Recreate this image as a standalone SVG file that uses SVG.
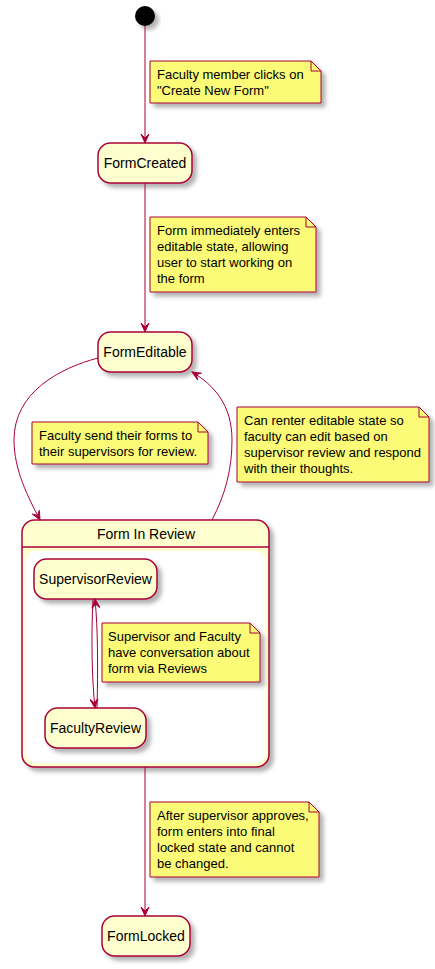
<svg xmlns="http://www.w3.org/2000/svg" width="435" height="969" viewBox="0 0 435 969">
<style>
.st{fill:#FEFECE;stroke:#A80036;stroke-width:1.5}
.nt{fill:#FBFB77;stroke:#A80036;stroke-width:1}
.fold{fill:none;stroke:#A80036;stroke-width:1}
.ln{fill:none;stroke:#A80036;stroke-width:1}
.sn{font-family:"Liberation Sans",Arial,sans-serif;font-size:14px;fill:#000;text-anchor:middle}
.tx{font-family:"Liberation Sans",Arial,sans-serif;font-size:13px;fill:#000}
</style>
<defs>
<filter id="sh" x="-20%" y="-20%" width="150%" height="150%">
<feDropShadow dx="4" dy="4" stdDeviation="2" flood-color="#000" flood-opacity="0.3"/>
</filter>
<marker id="ah" viewBox="-10 -5 11 10" refX="0" refY="0" markerWidth="11" markerHeight="10" markerUnits="userSpaceOnUse" orient="auto">
<path d="M0,0 L-9,-4 L-5,0 L-9,4 Z" fill="#A80036" stroke="#A80036" stroke-width="1"/>
</marker>
</defs>

<g id="start">
<circle cx="145" cy="16" r="10" fill="#000" filter="url(#sh)"/>
</g>

<g id="FormCreated">
<rect class="st" x="98" y="143" width="94" height="40" rx="12.5" filter="url(#sh)"/>
<text class="sn" x="145" y="168">FormCreated</text>
</g>

<g id="FormEditable">
<rect class="st" x="98" y="332" width="94" height="40" rx="12.5" filter="url(#sh)"/>
<text class="sn" x="145" y="357">FormEditable</text>
</g>

<g id="FormInReview">
<rect class="st" x="22" y="520" width="247" height="247" rx="12.5" filter="url(#sh)"/>
<line x1="22" y1="547" x2="269" y2="547" stroke="#A80036" stroke-width="1.5"/>
<rect x="26" y="551" width="240" height="212" rx="10" fill="#FFFFFF"/>
<text class="sn" x="146" y="539">Form In Review</text>
</g>

<g id="SupervisorReview">
<rect class="st" x="34" y="559" width="123" height="40" rx="12.5" filter="url(#sh)"/>
<text class="sn" x="95.5" y="584">SupervisorReview</text>
</g>

<g id="FacultyReview">
<rect class="st" x="45" y="708" width="101" height="40" rx="12.5" filter="url(#sh)"/>
<text class="sn" x="95.5" y="733">FacultyReview</text>
</g>

<g id="FormLocked">
<rect class="st" x="102" y="916" width="88" height="40" rx="12.5" filter="url(#sh)"/>
<text class="sn" x="146" y="941">FormLocked</text>
</g>

<g id="connectors">
<path class="ln" d="M145,26 L145,143" marker-end="url(#ah)"/>
<path class="ln" d="M145,183 L145,332" marker-end="url(#ah)"/>
<path class="ln" d="M98,358 C60,368 14,392 14,440 C14,470 28,497 40,520" marker-end="url(#ah)"/>
<path class="ln" d="M212,520 C225,495 232,470 232,440 C232,405 214,385 192,372" marker-end="url(#ah)"/>
<path class="ln" d="M93,600 C91,640 92,680 95,708" marker-end="url(#ah)"/>
<path class="ln" d="M97,708 C98,670 98,630 95,599" marker-end="url(#ah)"/>
<path class="ln" d="M145,767 L145,916" marker-end="url(#ah)"/>
</g>

<g id="note1">
<path class="nt" d="M150,61 L311,61 L321,71 L321,103 L150,103 Z" filter="url(#sh)"/>
<path class="fold" d="M311,61 L311,71 L321,71"/>
<text class="tx" x="157" y="79">Faculty member clicks on</text>
<text class="tx" x="157" y="95">"Create New Form"</text>
</g>

<g id="note2">
<path class="nt" d="M150,217 L306,217 L316,227 L316,292 L150,292 Z" filter="url(#sh)"/>
<path class="fold" d="M306,217 L306,227 L316,227"/>
<text class="tx" x="157" y="235">Form immediately enters</text>
<text class="tx" x="157" y="251">editable state, allowing</text>
<text class="tx" x="157" y="267">user to start working on</text>
<text class="tx" x="157" y="283">the form</text>
</g>

<g id="note3">
<path class="nt" d="M32,422 L198,422 L208,432 L208,464 L32,464 Z" filter="url(#sh)"/>
<path class="fold" d="M198,422 L198,432 L208,432"/>
<text class="tx" x="39" y="440">Faculty send their forms to</text>
<text class="tx" x="39" y="456">their supervisors for review.</text>
</g>

<g id="note4">
<path class="nt" d="M237,407 L419,407 L429,417 L429,482 L237,482 Z" filter="url(#sh)"/>
<path class="fold" d="M419,407 L419,417 L429,417"/>
<text class="tx" x="244" y="425">Can renter editable state so</text>
<text class="tx" x="244" y="441">faculty can edit based on</text>
<text class="tx" x="244" y="457">supervisor review and respond</text>
<text class="tx" x="244" y="473">with their thoughts.</text>
</g>

<g id="note5">
<path class="nt" d="M102,623 L250,623 L260,633 L260,682 L102,682 Z" filter="url(#sh)"/>
<path class="fold" d="M250,623 L250,633 L260,633"/>
<text class="tx" x="108" y="641">Supervisor and Faculty</text>
<text class="tx" x="108" y="657">have conversation about</text>
<text class="tx" x="108" y="673">form via Reviews</text>
</g>

<g id="note6">
<path class="nt" d="M150,802 L309,802 L319,812 L319,877 L150,877 Z" filter="url(#sh)"/>
<path class="fold" d="M309,802 L309,812 L319,812"/>
<text class="tx" x="157" y="820">After supervisor approves,</text>
<text class="tx" x="157" y="836">form enters into final</text>
<text class="tx" x="157" y="852">locked state and cannot</text>
<text class="tx" x="157" y="868">be changed.</text>
</g>
</svg>
